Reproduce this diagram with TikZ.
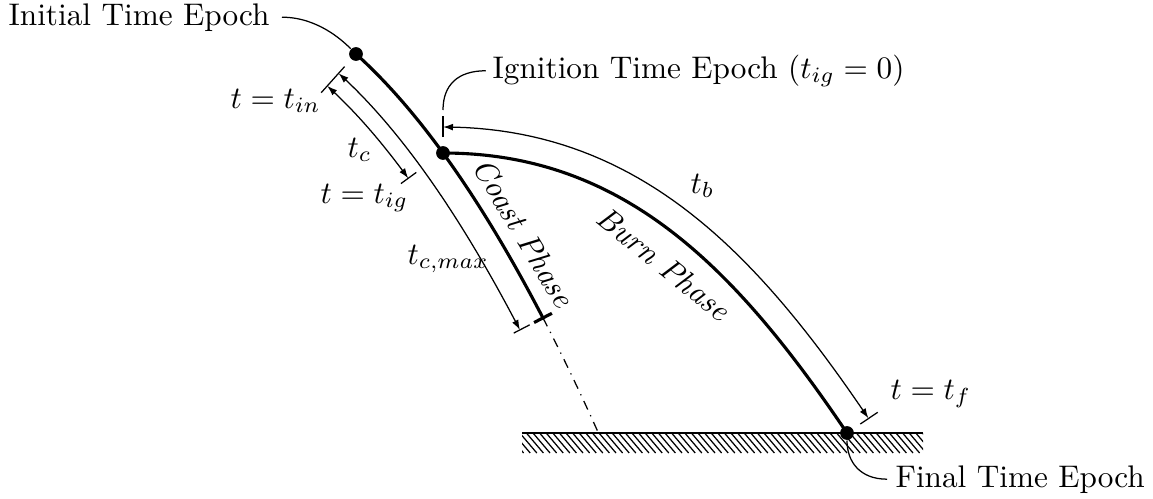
\documentclass[tikz,border=0pt]{standalone}
\usetikzlibrary{arrows.meta}
\begin{document}
\begin{tikzpicture}[x=0.32pt,y=-0.32pt,
  traj/.style={line width=1pt},
  thinline/.style={line width=0.4pt},
  dim/.style={line width=0.4pt,{Latex[length=3.2pt,width=2.2pt]}-{Latex[length=3.2pt,width=2.2pt]}},
  dot/.style={circle,fill=black,inner sep=0pt,minimum size=4.4pt},
  lbl/.style={inner sep=0pt},
  declare function={
    cs(\x)=0.8997+0.005476*\x;
    cq(\x)=sqrt(1+cs(\x)^2);
    cx(\x)=356+\x;
    cy(\x)=54+0.8997*\x+(0.05233*\x)^2;
    bx(\x)=(1-\x)^3*443+3*(1-\x)^2*\x*623+3*(1-\x)*\x^2*735+\x^3*847;
    by(\x)=(1-\x)^3*153+3*(1-\x)^2*\x*153+3*(1-\x)*\x^2*267+\x^3*433;
    bdx(\x)=3*(1-\x)^2*1.8+6*(1-\x)*\x*1.12+3*\x^2*1.12;
    bdy(\x)=6*(1-\x)*\x*1.14+3*\x^2*1.66;
    bl(\x)=sqrt(bdx(\x)^2+bdy(\x)^2);
  }]
\useasboundingbox (0,0) rectangle (1153,498);

% ground
\begin{scope}
  \clip (522,433) rectangle (923,453);
  \foreach \h in {500,506.6,...,930} \draw[thinline] (\h,433) -- ++(17,20);
\end{scope}
\draw[line width=0.6pt] (522,433) -- (923,433);

% points
\coordinate (cend) at (543,318);

% coast phase
\draw[traj] plot[domain=0:187,samples=60] ({cx(\x)},{cy(\x)});
\draw[thinline,dash dot] plot[domain=187:241.6,samples=20] ({cx(\x)},{cy(\x)});
\draw[traj] (534.1,322.5) -- (551.9,313.3);

% nodes
\node[dot] (init) at (356,54) {};
\node[dot] (ig) at (443,153) {};
\node[dot] (final) at (847,433) {};

% burn phase
\draw[traj] (ig.center) .. controls (623,153) and (735,267) .. (final.center);

% dimension arcs
\draw[dim] plot[domain=0:87,samples=40] ({cx(\x)-43*cs(\x)/cq(\x)},{cy(\x)+43/cq(\x)});
\draw[dim] plot[domain=0:187,samples=60] ({cx(\x)-26*cs(\x)/cq(\x)},{cy(\x)+26/cq(\x)});
\draw[dim] plot[domain=0:1,samples=50] ({bx(\x)+26*bdy(\x)/bl(\x)},{by(\x)-26*bdx(\x)/bl(\x)});

% ticks
\draw[thinline] (344.6,66.6) -- (321.2,92.7);
\draw[thinline] (416.3,172.4) -- (400.9,183.6);
\draw[thinline] (529.7,324.8) -- (513.7,333.1);
\draw[thinline] (443,137) -- (443,116);
\draw[thinline] (860.3,424.0) -- (877.7,412.3);

% labels
\node[lbl,anchor=base west] (linit) at (8,25) {Initial Time Epoch};
\node[lbl,anchor=base west] (lig) at (492,78) {Ignition Time Epoch ($t_{ig}=0$)};
\node[lbl,anchor=base west] (lfin) at (895,487) {Final Time Epoch};
\node[lbl,anchor=base west] (ltin) at (230,108) {$t=t_{in}$};
\node[lbl,anchor=base west] (ltc) at (347,157) {$t_c$};
\node[lbl,anchor=base west] (ltig) at (320,203) {$t=t_{ig}$};
\node[lbl,anchor=base west] (ltcm) at (407,264) {$t_{c,max}$};
\node[lbl,anchor=base west] (ltb) at (690,193) {$t_b$};
\node[lbl,anchor=base west] (ltf) at (890,399) {$t=t_f$};
\node[lbl,rotate=-59] (lcoast) at (524,233) {\textit{Coast Phase}};
\node[lbl,rotate=-39] (lburn) at (664,264) {\textit{Burn Phase}};

% leaders
\draw[thinline] ([xshift=3.8pt]linit.east) .. controls +(35,0) and +(-14,-14) .. (init);
\draw[thinline] ([xshift=-2pt]lig.west) .. controls +(-28,0) and +(0,-25) .. (443,110);
\draw[thinline] (final) .. controls +(0,28) and +(-28,0) .. ([xshift=-2.5pt]lfin.west);
\end{tikzpicture}
\end{document}
